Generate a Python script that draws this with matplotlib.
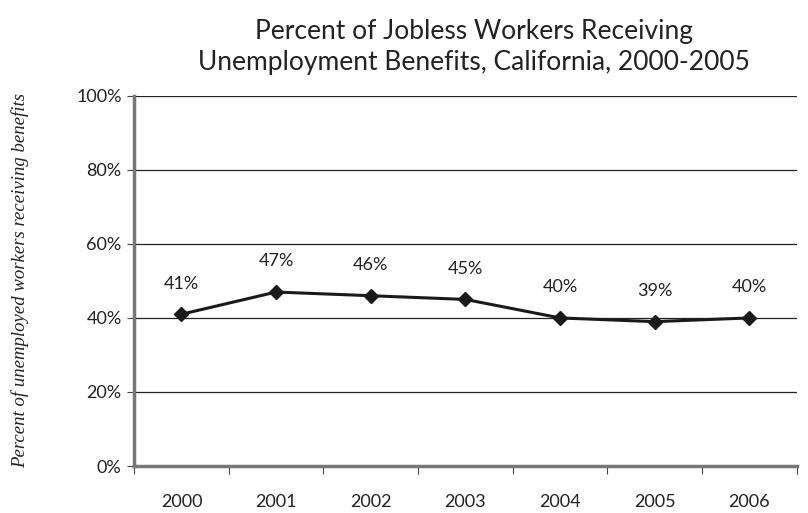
import numpy as np
import matplotlib.pyplot as plt

plt.rcParams['font.family'] = ['Lato', 'DejaVu Sans']

years = ['2000', '2001', '2002', '2003', '2004', '2005', '2006']
pct = [41, 47, 46, 45, 40, 39, 40]
yticks = [0, 20, 40, 60, 80, 100]

fig = plt.figure(figsize=(8.08, 5.13), dpi=100)
ax = fig.add_axes([0.166, 0.0916, 0.820, 0.7216])

x = np.arange(len(years))
ax.plot(x, pct, color='#1a1a1a', lw=2.2, marker='D', ms=7, zorder=3)
for xi, v in zip(x, pct):
    ax.annotate('%d%%' % v, (xi, v), xytext=(0, 22), textcoords='offset points',
                ha='center', va='center', fontsize=13, color='#222222')

ax.set_xlim(-0.5, len(years) - 0.5)
ax.set_ylim(0, 100)
ax.set_yticks(yticks)
ax.set_yticklabels(['%d%%' % t for t in yticks], fontsize=13, color='#222222')
ax.yaxis.grid(True, color='#222222', lw=0.9)
ax.set_axisbelow(True)

# categories sit between the tick marks
ax.set_xticks(np.arange(len(years) + 1) - 0.5)
ax.set_xticklabels([])
ax.set_xticks(x, minor=True)
ax.set_xticklabels(years, minor=True, fontsize=13, color='#222222')
ax.tick_params(axis='x', which='minor', length=0, pad=20)
ax.tick_params(axis='x', which='major', length=6, color='#444444', direction='out')
ax.tick_params(axis='y', length=5, color='#444444', pad=4)

for s in ['top', 'right']:
    ax.spines[s].set_visible(False)
for s in ['left', 'bottom']:
    ax.spines[s].set_color('#777777')
    ax.spines[s].set_linewidth(2.5)

ax.set_ylabel('Percent of unemployed workers receiving benefits', family='Liberation Serif',
              style='italic', fontsize=13.5, color='#222222', labelpad=34)
fig.suptitle('Percent of Jobless Workers Receiving\nUnemployment Benefits, California, 2000-2005',
             x=0.587, y=0.962, fontsize=19, color='#222222', linespacing=1.3)

fig.savefig('out.png', dpi=100)
